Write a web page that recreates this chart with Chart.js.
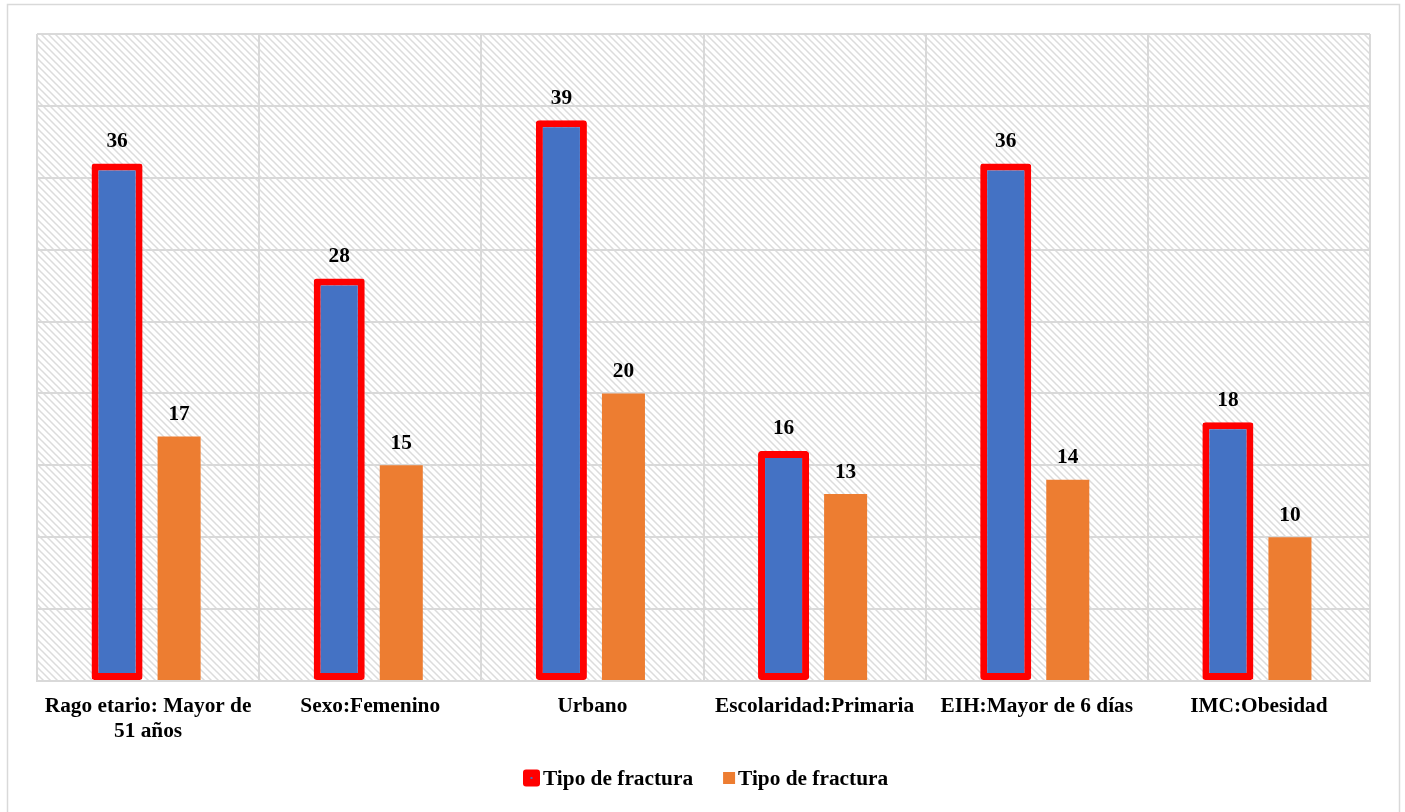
<!DOCTYPE html>
<html>
<head>
<meta charset="utf-8">
<script src="https://cdn.jsdelivr.net/npm/chart.js@4.4.1/dist/chart.umd.min.js"></script>
<style>
  html, body { margin: 0; padding: 0; background: #ffffff; }
  #wrap { width: 1405px; height: 812px; position: relative; }
</style>
</head>
<body>
<div id="wrap"><canvas id="c" width="1405" height="812"></canvas></div>
<script>
const categories = [
  ["Rago etario: Mayor de", "51 años"],
  "Sexo:Femenino",
  "Urbano",
  "Escolaridad:Primaria",
  "EIH:Mayor de 6 días",
  "IMC:Obesidad"
];
const seriesNames = ["Tipo de fractura", "Tipo de fractura"];
const seriesA = [36, 28, 39, 16, 36, 18];
const seriesB = [17, 15, 20, 13, 14, 10];
const yMin = 0, yMax = 45, yStep = 5;

const SERIF = "'Liberation Serif', 'Times New Roman', serif";
const FS = 21.33;

function makeHatch() {
  const s = 7;
  const c = document.createElement('canvas');
  c.width = s; c.height = s;
  const g = c.getContext('2d');
  g.fillStyle = '#ffffff';
  g.fillRect(0, 0, s, s);
  g.strokeStyle = '#dcdcdc';
  g.lineWidth = 1.5;
  g.beginPath();
  g.moveTo(-1, -1); g.lineTo(s + 1, s + 1);
  g.moveTo(-1, s - 1); g.lineTo(1, s + 1);
  g.moveTo(s - 1, -1); g.lineTo(s + 1, 1);
  g.stroke();
  return c;
}

const bgPlugin = {
  id: 'bg',
  beforeDraw(chart) {
    const ctx = chart.ctx;
    ctx.save();
    ctx.fillStyle = '#ffffff';
    ctx.fillRect(0, 0, chart.width, chart.height);
    ctx.strokeStyle = '#d9d9d9';
    ctx.lineWidth = 1.5;
    ctx.strokeRect(7.5, 4.5, 1392, 900);
    const a = chart.chartArea;
    ctx.fillStyle = ctx.createPattern(makeHatch(), 'repeat');
    ctx.fillRect(a.left, a.top, a.right - a.left, a.bottom - a.top);
    ctx.restore();
  }
};

const labelPlugin = {
  id: 'vlabels',
  afterDatasetsDraw(chart) {
    const ctx = chart.ctx;
    ctx.save();
    ctx.font = "bold " + FS + "px " + SERIF;
    ctx.fillStyle = '#000000';
    ctx.textAlign = 'center';
    ctx.textBaseline = 'middle';
    chart.data.datasets.forEach((ds, i) => {
      const meta = chart.getDatasetMeta(i);
      meta.data.forEach((el, j) => {
        ctx.fillText(String(ds.data[j]), el.x, el.y - 22);
      });
    });
    ctx.restore();
  }
};

const legendPlugin = {
  id: 'customLegend',
  afterDraw(chart) {
    const ctx = chart.ctx;
    const ds = chart.data.datasets;
    ctx.save();
    ctx.font = "bold " + FS + "px " + SERIF;
    ctx.textBaseline = 'middle';
    ctx.textAlign = 'left';
    const cy = 778;
    const box1 = 17, box2 = 12, gapBT = 3, gapItems = 30;
    const w1 = ctx.measureText(ds[0].label).width;
    const w2 = ctx.measureText(ds[1].label).width;
    const total = box1 + gapBT + w1 + gapItems + box2 + gapBT + w2;
    const a = chart.chartArea;
    let x = Math.round((a.left + a.right) / 2 + 2 - total / 2);
    ctx.fillStyle = ds[0].borderColor;
    ctx.beginPath();
    ctx.roundRect(x, cy - box1 / 2, box1, box1, 3);
    ctx.fill();
    ctx.fillStyle = ds[0].backgroundColor;
    ctx.fillRect(x + box1 / 2 - 1, cy - 1, 2, 2);
    x += box1 + gapBT;
    ctx.fillStyle = '#000000';
    ctx.fillText(ds[0].label, x, cy + 1);
    x += w1 + gapItems;
    ctx.fillStyle = ds[1].backgroundColor;
    ctx.fillRect(x, cy - box2 / 2, box2, box2);
    x += box2 + gapBT;
    ctx.fillStyle = '#000000';
    ctx.fillText(ds[1].label, x, cy + 1);
    ctx.restore();
  }
};

new Chart(document.getElementById('c'), {
  type: 'bar',
  data: {
    labels: categories,
    datasets: [
      {
        label: seriesNames[0],
        data: seriesA,
        backgroundColor: '#4472C4',
        borderColor: '#FF0000',
        borderWidth: 7,
        borderSkipped: false,
        borderRadius: 3,
        categoryPercentage: 0.5586,
        barPercentage: 0.8226
      },
      {
        label: seriesNames[1],
        data: seriesB,
        backgroundColor: '#ED7D31',
        borderColor: '#ED7D31',
        borderWidth: 0,
        categoryPercentage: 0.5586,
        barPercentage: 0.6935
      }
    ]
  },
  options: {
    responsive: false,
    animation: false,
    layout: { padding: { left: 37, right: 35, top: 34, bottom: 55 } },
    scales: {
      x: {
        grid: { color: '#d9d9d9', lineWidth: 2, drawTicks: false, offset: true },
        border: { display: true, color: '#d9d9d9', width: 2 },
        ticks: {
          color: '#000000',
          font: { family: SERIF, size: FS, weight: 'bold', lineHeight: 25 / FS },
          padding: 13,
          maxRotation: 0,
          autoSkip: false
        }
      },
      y: {
        min: yMin, max: yMax,
        ticks: { display: false, stepSize: yStep },
        grid: { color: '#d9d9d9', lineWidth: 2, drawTicks: false },
        border: { display: false }
      }
    },
    plugins: {
      legend: { display: false },
      tooltip: { enabled: false }
    }
  },
  plugins: [bgPlugin, labelPlugin, legendPlugin]
});
</script>
</body>
</html>
